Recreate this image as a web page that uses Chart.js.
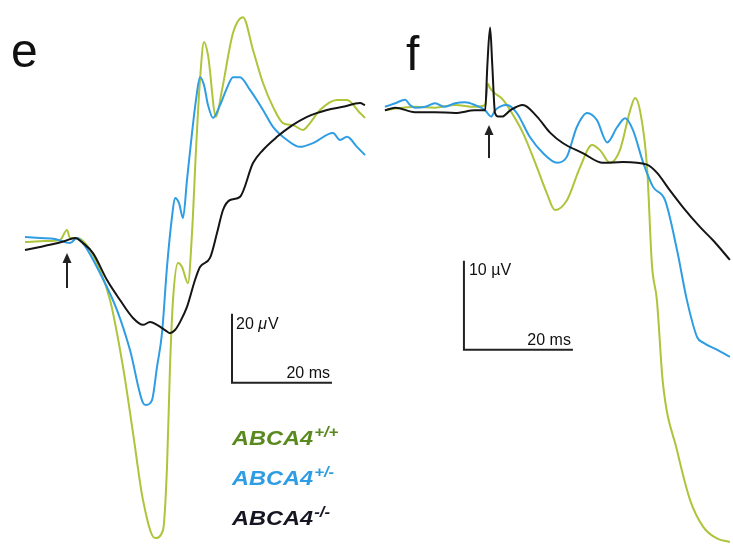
<!DOCTYPE html>
<html>
<head>
<meta charset="utf-8">
<script src="https://cdn.jsdelivr.net/npm/chart.js@4"></script>
<style>
  body { margin: 0; background: #fff; }
  #wrap { position: relative; width: 733px; height: 544px; }
  canvas { position: absolute; top: 0; }
</style>
</head>
<body>
<div id="wrap">
  <canvas id="panel-e" width="370" height="544" style="left:0"></canvas>
  <canvas id="panel-f" width="363" height="544" style="left:370px"></canvas>
</div>
<script>
// panel e: time (ms, 0 = flash) and amplitude (uV)
const eWtT = [-8.4, -4.4, -1.4, 0, 0.6, 2, 4.6, 8.6, 11.2, 13.2, 15.2, 17.6, 19.2, 20, 20.6, 21.2, 22.2, 23, 24.2, 25, 25.8, 26.6, 27.4, 28.2, 29.8, 31, 33.2, 35.2, 37.2, 39.2, 41.2, 43.2, 45.2, 47.2, 48.6, 50.6, 54, 56, 58.6, 59.6];
const eWtV = [-0.6, -0.3, 0, 2.9, 0.6, 0.6, -2.9, -17.4, -36.8, -55.9, -75.4, -86.4, -84.1, -65.8, -36.8, -17.4, -6.7, -7.8, -12.5, 2, 26.1, 46.4, 57.4, 53.6, 35.7, 43.5, 60, 64.6, 55.1, 45.5, 38.6, 33.9, 33.3, 31.9, 33.9, 37.7, 40.6, 40.6, 36.8, 35.4];

const eHetT = [-8.4, -5.4, -2.4, 0.6, 2, 3.2, 6.6, 10, 12.6, 15.2, 15.8, 17, 18, 19, 20, 21, 21.6, 22.4, 23.2, 24, 25, 25.8, 26.6, 27.4, 28.2, 29.2, 30.6, 32, 33.2, 34.6, 36.6, 39.2, 41.2, 44, 46.6, 49.2, 53.2, 54.6, 56, 58, 59.6];
const eHetV = [0.9, 0.6, 0.3, -0.9, 0.6, -0.9, -9.6, -20.3, -31.9, -47.2, -47.8, -46.4, -36.8, -27, -7.8, 6.7, 12.2, 10.7, 6.4, 17.4, 31, 40.6, 47.2, 44.9, 39.1, 35.4, 39.1, 44.1, 47.2, 47.2, 43.5, 37.7, 32.8, 29, 27, 28.1, 31, 29, 29.9, 27, 24.6];

const eKoT = [-8.4, -5.4, -3.4, -0.4, 1.6, 3.2, 5.2, 8, 10.6, 13.2, 15.2, 16.6, 18, 19.6, 20.6, 21.6, 22.6, 24, 25.6, 26.6, 28.6, 30, 31.2, 32.6, 34.6, 37.2, 39.2, 42, 44.6, 48, 52, 55.2, 58.6, 59.6];
const eKoV = [-2.9, -2, -1.4, -0.3, 0.6, -0.9, -3.8, -11.6, -17.4, -22.6, -24.6, -23.8, -24.6, -26.1, -27, -26.1, -23.8, -19.4, -11.6, -7.8, -5.2, 2, 8.7, 11.6, 12.5, 22.3, 26.1, 29.9, 32.8, 35.7, 37.7, 38.6, 39.7, 39.1];

// panel f
const fWtT = [-19.1, -17.2, -13.6, -9.9, -6.2, -2.6, -0.7, -0.2, 0.2, 1.1, 2.4, 3.9, 6.2, 8.8, 10.6, 12.1, 14.3, 16.7, 18.9, 20.4, 22.2, 24, 25.9, 26.8, 27.7, 29, 29.9, 30.8, 31.9, 34.5, 36.9, 39.3, 41.8, 44.2];
const fWtV = [-0.6, -0.4, -0.2, -0.3, 0, -0.2, 0, 2.4, 1.9, 1.3, 0.7, -0.6, -3.1, -7, -9.9, -11.8, -10.7, -7, -4.5, -5.1, -6.5, -5.1, -0.6, 0.8, -0.6, -7, -18, -21.9, -31.2, -38.8, -44.4, -47.4, -48.7, -49.1];

const fHetT = [-19.1, -17.2, -15.4, -14.5, -13.6, -11.7, -9.9, -8.1, -6.2, -4.4, -2.6, -0.7, 0.4, 1.1, 3.3, 5.1, 7.5, 9.9, 12.5, 14.3, 16.1, 18, 19.8, 21.7, 23.5, 25, 26.4, 28.3, 30.1, 32.3, 34.5, 36.3, 38.2, 39.3, 41.8, 44.2];
const fHetV = [-0.2, 0.2, 0.6, 0, -0.3, -0.2, 0.2, -0.2, 0.2, 0.3, 0, -0.6, -1.3, -0.6, 0, -0.9, -3.6, -5.4, -6.5, -5.8, -2.5, -0.9, -1.7, -4.2, -2.5, -1.5, -2.8, -6.5, -9.2, -10.7, -16.3, -21.9, -26.1, -26.7, -27.5, -28.3];

const fKoT = [-19.1, -17.2, -13.6, -9.9, -6.2, -2.6, -0.7, -0.3, 0.2, 0.6, 1.1, 1.7, 2.4, 3.9, 6.2, 8.8, 11.2, 13.6, 17.2, 20.9, 24.6, 29, 30.8, 33.2, 35.6, 38.7, 41.1, 44.2];
const fKoV = [-0.6, -0.3, -0.8, -0.8, -0.9, -0.6, -0.6, 4.5, 8.7, 4.5, -0.9, -1.3, -1.3, -0.6, 0, -1.3, -3.1, -4.3, -5.4, -6.5, -6.4, -6.7, -7.6, -9.6, -11.5, -13.7, -15.2, -17.4];

// scale bars: [ms, uV] corner pieces
const eBarT = [53, 33, 33];
const eBarV = [-41.4, -41.4, -21.4];
const fBarT = [15.4, -4.6, -4.6];
const fBarV = [-27.5, -27.5, -17.5];

const genotypes = ['+/+', '+/-', '-/-'];
const traceColors = ['#aec43a', '#2f9de3', '#151515'];
const legendColors = ['#5a8a1f', '#2f9de3', '#161622'];

function pts(t, v) {
	return t.map((x, i) => ({ x: x, y: v[i] }));
}

function trace(t, v, color) {
	return {
		data: pts(t, v),
		borderColor: color,
		borderWidth: 2,
		cubicInterpolationMode: 'monotone',
		pointRadius: 0
	};
}

// arrow, text and legend drawn in data space where it makes sense
function panelDecor(opts) {
	return {
		id: 'decor',
		afterDraw(chart) {
			const ctx = chart.ctx;
			const x = chart.scales.x, y = chart.scales.y;
			ctx.save();
			ctx.fillStyle = '#111';
			ctx.textBaseline = 'alphabetic';

			// panel letter
			ctx.font = '48px "Liberation Sans", Arial, sans-serif';
			ctx.fillText(opts.letter, opts.letterX, opts.letterY);

			// stimulus arrow
			const ax = x.getPixelForValue(0);
			const top = y.getPixelForValue(opts.arrow[0]);
			const bot = y.getPixelForValue(opts.arrow[1]);
			ctx.strokeStyle = '#222';
			ctx.lineWidth = 2;
			ctx.beginPath();
			ctx.moveTo(ax, bot);
			ctx.lineTo(ax, top + 6);
			ctx.stroke();
			ctx.fillStyle = '#222';
			ctx.beginPath();
			ctx.moveTo(ax, top);
			ctx.lineTo(ax - 4.5, top + 10);
			ctx.lineTo(ax + 4.5, top + 10);
			ctx.closePath();
			ctx.fill();

			// scale bar labels
			ctx.fillStyle = '#111';
			ctx.font = '16px "Liberation Sans", Arial, sans-serif';
			const bx = x.getPixelForValue(opts.barT[1]);
			const bxEnd = x.getPixelForValue(opts.barT[0]);
			const byTop = y.getPixelForValue(opts.barV[2]);
			const byBot = y.getPixelForValue(opts.barV[0]);
			ctx.textAlign = 'left';
			if (opts.italicMu) {
				ctx.fillText('20 ', bx + 4, byTop + 15);
				const w = ctx.measureText('20 ').width;
				ctx.font = 'italic 16px "Liberation Sans", Arial, sans-serif';
				ctx.fillText('\u03bc', bx + 4 + w, byTop + 15);
				const w2 = ctx.measureText('\u03bc').width;
				ctx.font = '16px "Liberation Sans", Arial, sans-serif';
				ctx.fillText('V', bx + 4 + w + w2 + 1, byTop + 15);
			} else {
				ctx.fillText(opts.vLabel, bx + 5, byTop + 14);
			}
			ctx.textAlign = 'right';
			ctx.fillText('20 ms', bxEnd - 2, byBot - 5);

			// legend
			if (opts.legend) {
				const rows = [445, 485, 525];
				ctx.textAlign = 'left';
				genotypes.forEach((g, i) => {
					ctx.save();
					ctx.translate(232, rows[i]);
					ctx.scale(1.12, 1);
					ctx.fillStyle = legendColors[i];
					ctx.font = 'italic bold 21px "Liberation Sans", Arial, sans-serif';
					ctx.fillText('ABCA4', 0, 0);
					const w = ctx.measureText('ABCA4').width;
					ctx.font = 'italic bold 15px "Liberation Sans", Arial, sans-serif';
					ctx.fillText(g, w + 1, -8);
					ctx.restore();
				});
			}
			ctx.restore();
		}
	};
}

function makeChart(id, datasets, xr, yr, decor) {
	return new Chart(document.getElementById(id), {
		type: 'line',
		data: { datasets },
		options: {
			responsive: false,
			animation: false,
			layout: { padding: 0 },
			plugins: { legend: { display: false }, tooltip: { enabled: false } },
			scales: {
				x: { type: 'linear', min: xr[0], max: xr[1], display: false },
				y: { type: 'linear', min: yr[0], max: yr[1], display: false }
			}
		},
		plugins: [decor]
	});
}

const bar = (t, v) => ({
	data: pts(t, v), borderColor: '#222', borderWidth: 2, tension: 0, pointRadius: 0
});

makeChart('panel-e', [
	trace(eKoT, eKoV, traceColors[2]),
	trace(eHetT, eHetV, traceColors[1]),
	trace(eWtT, eWtV, traceColors[0]),
	bar(eBarT, eBarV)
], [-13.4, 60.6], [-88.12, 69.57], panelDecor({
	letter: 'e', letterX: 11, letterY: 67, arrow: [-3.8, -13.9],
	barT: eBarT, barV: eBarV, italicMu: true, legend: true
}));

makeChart('panel-f', [
	trace(fKoT, fKoV, traceColors[2]),
	trace(fHetT, fHetV, traceColors[1]),
	trace(fWtT, fWtV, traceColors[0]),
	bar(fBarT, fBarV)
], [-21.835, 44.77], [-49.33, 11.8], panelDecor({
	letter: 'f', letterX: 36, letterY: 70, arrow: [-2.25, -5.96],
	barT: fBarT, barV: fBarV, vLabel: '10 \u00b5V', legend: false
}));
</script>
</body>
</html>
